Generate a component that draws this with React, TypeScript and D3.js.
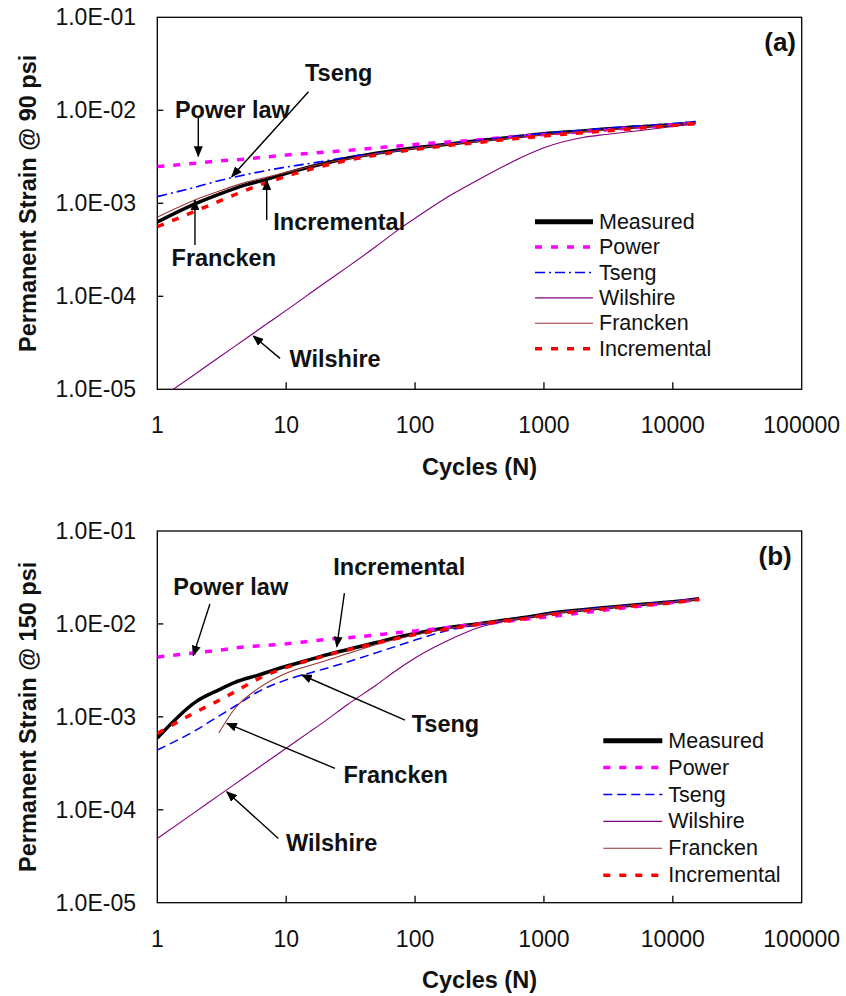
import React from 'react';
import * as d3 from 'd3';

// ---------- Panel (a) data : 90 psi ----------
const cyclesA = [1, 2, 3, 5, 7, 10, 20, 30, 50, 70, 100, 200, 300, 500, 700, 1000, 2000, 3000, 5000, 7000, 10000, 15000];
const measuredA = [6.3e-4, 1.0e-3, 1.25e-3, 1.6e-3, 1.8e-3, 2.1e-3, 2.7e-3, 3.05e-3, 3.45e-3, 3.7e-3, 3.95e-3, 4.4e-3, 4.7e-3, 5.05e-3, 5.3e-3, 5.6e-3, 6.0e-3, 6.3e-3, 6.6e-3, 6.8e-3, 7.0e-3, 7.4e-3];
const powerA = [2.48e-3, 2.7e-3, 2.85e-3, 3.0e-3, 3.15e-3, 3.3e-3, 3.55e-3, 3.7e-3, 3.95e-3, 4.1e-3, 4.3e-3, 4.6e-3, 4.8e-3, 5.1e-3, 5.3e-3, 5.5e-3, 5.9e-3, 6.15e-3, 6.5e-3, 6.75e-3, 7.0e-3, 7.35e-3];
const tsengA = [1.18e-3, 1.5e-3, 1.75e-3, 2.05e-3, 2.25e-3, 2.45e-3, 2.85e-3, 3.15e-3, 3.45e-3, 3.65e-3, 3.95e-3, 4.4e-3, 4.7e-3, 5.1e-3, 5.35e-3, 5.65e-3, 6.1e-3, 6.4e-3, 6.75e-3, 6.95e-3, 7.2e-3, 7.55e-3];
const wilshireA = [7.6e-6, 1.48e-5, 2.2e-5, 3.6e-5, 5.0e-5, 7.05e-5, 1.4e-4, 2.07e-4, 3.45e-4, 4.9e-4, 6.9e-4, 1.28e-3, 1.75e-3, 2.55e-3, 3.2e-3, 3.95e-3, 5.1e-3, 5.5e-3, 5.95e-3, 6.3e-3, 6.7e-3, 7.2e-3];
const franckenA = [7.1e-4, 1.1e-3, 1.35e-3, 1.7e-3, 1.9e-3, 2.15e-3, 2.7e-3, 3.0e-3, 3.4e-3, 3.65e-3, 3.9e-3, 4.35e-3, 4.6e-3, 4.95e-3, 5.2e-3, 5.45e-3, 5.9e-3, 6.15e-3, 6.5e-3, 6.7e-3, 6.95e-3, 7.3e-3];
const incrementalA = [5.6e-4, 8.3e-4, 1.05e-3, 1.4e-3, 1.66e-3, 1.95e-3, 2.55e-3, 2.9e-3, 3.3e-3, 3.55e-3, 3.8e-3, 4.25e-3, 4.5e-3, 4.85e-3, 5.05e-3, 5.3e-3, 5.75e-3, 6.0e-3, 6.35e-3, 6.6e-3, 6.85e-3, 7.2e-3];

// ---------- Panel (b) data : 150 psi ----------
const cyclesB = [1, 2, 3, 4, 6, 10, 15, 20, 30, 50, 70, 100, 200, 300, 500, 700, 1000, 2000, 3000, 5000, 7000, 10000, 16000];
const measuredB = [5.9e-4, 1.46e-3, 1.95e-3, 2.35e-3, 2.8e-3, 3.5e-3, 4.1e-3, 4.6e-3, 5.3e-3, 6.3e-3, 7.1e-3, 7.9e-3, 9.3e-3, 1.0e-2, 1.1e-2, 1.17e-2, 1.27e-2, 1.42e-2, 1.5e-2, 1.6e-2, 1.66e-2, 1.73e-2, 1.87e-2];
const powerB = [4.4e-3, 4.9e-3, 5.2e-3, 5.5e-3, 5.8e-3, 6.1e-3, 6.5e-3, 6.8e-3, 7.1e-3, 7.6e-3, 8.0e-3, 8.4e-3, 9.3e-3, 9.9e-3, 1.06e-2, 1.12e-2, 1.18e-2, 1.32e-2, 1.41e-2, 1.53e-2, 1.61e-2, 1.7e-2, 1.83e-2];
const tsengB = [4.4e-4, 7.2e-4, 1.02e-3, 1.3e-3, 1.85e-3, 2.5e-3, 2.95e-3, 3.3e-3, 3.9e-3, 4.9e-3, 5.7e-3, 6.7e-3, 8.8e-3, 9.7e-3, 1.08e-2, 1.16e-2, 1.27e-2, 1.43e-2, 1.51e-2, 1.61e-2, 1.68e-2, 1.75e-2, 1.88e-2];
const wilshireB = [4.9e-5, 9.6e-5, 1.43e-4, 1.89e-4, 2.8e-4, 4.6e-4, 6.8e-4, 9.0e-4, 1.36e-3, 2.2e-3, 3.1e-3, 4.3e-3, 7.1e-3, 9.0e-3, 1.07e-2, 1.15e-2, 1.25e-2, 1.41e-2, 1.49e-2, 1.59e-2, 1.65e-2, 1.72e-2, 1.86e-2];
const franckenB = [null, null, 6.7e-4, 1.23e-3, 2.0e-3, 2.95e-3, 3.55e-3, 4.0e-3, 4.8e-3, 6.0e-3, 6.8e-3, 7.6e-3, 9.1e-3, 9.9e-3, 1.09e-2, 1.16e-2, 1.26e-2, 1.41e-2, 1.49e-2, 1.59e-2, 1.65e-2, 1.72e-2, 1.85e-2];
const incrementalB = [6.6e-4, 1.13e-3, 1.5e-3, 1.86e-3, 2.55e-3, 3.4e-3, 4.05e-3, 4.55e-3, 5.25e-3, 6.2e-3, 6.9e-3, 7.7e-3, 9.0e-3, 9.8e-3, 1.08e-2, 1.14e-2, 1.23e-2, 1.38e-2, 1.46e-2, 1.56e-2, 1.62e-2, 1.69e-2, 1.83e-2];

// ---------- axes ----------
const seriesNames = ['Measured', 'Power', 'Tseng', 'Wilshire', 'Francken', 'Incremental'];
const xTicks = [1, 10, 100, 1000, 10000, 100000];
const yTicks = [1e-5, 1e-4, 1e-3, 1e-2, 1e-1];
const xTitle = 'Cycles (N)';

// annotations in data coordinates: text anchor (start, vertical centre), arrow from -> to
const annotationsA = [
  { text: 'Power law', at: [1.37, 1.0e-2], from: [2.08, 8.5e-3], to: [2.08, 3.2e-3] },
  { text: 'Tseng', at: [14, 2.54e-2], from: [14.9, 1.58e-2], to: [3.78, 1.93e-3] },
  { text: 'Incremental', at: [7.94, 6.34e-4], from: [7.06, 6.6e-4], to: [7.06, 1.78e-3] },
  { text: 'Francken', at: [1.29, 2.56e-4], from: [1.96, 3.56e-4], to: [1.96, 1.08e-3] },
  { text: 'Wilshire', at: [10.6, 2.1e-5], from: [8.96, 2.15e-5], to: [5.56, 3.74e-5] },
];
const annotationsB = [
  { text: 'Power law', at: [1.33, 2.49e-2], from: [2.56, 1.64e-2], to: [1.9, 4.56e-3] },
  { text: 'Incremental', at: [23.2, 4.13e-2], from: [28.3, 2.14e-2], to: [24.7, 5.68e-3] },
  { text: 'Tseng', at: [94.2, 8.37e-4], from: [83.6, 9.24e-4], to: [13.2, 2.82e-3] },
  { text: 'Francken', at: [27.8, 2.36e-4], from: [23.9, 2.79e-4], to: [3.46, 8.51e-4] },
  { text: 'Wilshire', at: [9.97, 4.35e-5], from: [8.69, 4.92e-5], to: [3.46, 1.56e-4] },
];

type Style = { stroke: string; width: number; dash?: string; legendWidth?: number };

const stylesA: Style[] = [
  { stroke: '#000000', width: 3.5, legendWidth: 5 },
  { stroke: '#ff00ff', width: 3.5, dash: '7,9' },
  { stroke: '#0000ff', width: 1.6, dash: '10,4,2,4' },
  { stroke: '#800080', width: 1.1 },
  { stroke: '#993333', width: 1.1 },
  { stroke: '#ff0000', width: 3.5, dash: '7,9' },
];
const stylesB: Style[] = [
  { stroke: '#000000', width: 3.5, legendWidth: 5 },
  { stroke: '#ff00ff', width: 3.5, dash: '7,9' },
  { stroke: '#0000ff', width: 1.5, dash: '9,5' },
  { stroke: '#800080', width: 1.1 },
  { stroke: '#993333', width: 1.1 },
  { stroke: '#ff0000', width: 3.5, dash: '7,9' },
];

const FONT = '"Liberation Sans", Arial, sans-serif';
const X0 = 157.3;
const X1 = 801.7;

const fmtY = (d: number) => {
  const e = Math.round(Math.log10(d));
  return `1.0E-${String(-e).padStart(2, '0')}`;
};

type PanelProps = {
  id: string;
  top: number;
  bottom: number;
  cycles: number[];
  values: (number | null)[][];
  styles: Style[];
  yTitle: string;
  tag: string;
  tagX: number;
  legendX: number;
  legendY: number;
  legendStep: number;
  legendLen: number;
  annotations: { text: string; at: number[]; from: number[]; to: number[] }[];
};

function Panel(p: PanelProps) {
  const x = d3.scaleLog().domain([1, 1e5]).range([X0, X1]);
  const y = d3.scaleLog().domain([1e-5, 1e-1]).range([p.bottom, p.top]);
  const line = d3
    .line<[number, number | null]>()
    .defined((d) => d[1] != null)
    .x((d) => x(d[0]))
    .y((d) => y(d[1] as number))
    .curve(d3.curveMonotoneX);
  const midY = (p.top + p.bottom) / 2;
  const midX = (X0 + X1) / 2;
  return (
    <g>
      <defs>
        <clipPath id={`clip-${p.id}`}>
          <rect x={X0} y={p.top} width={X1 - X0} height={p.bottom - p.top} />
        </clipPath>
      </defs>
      <rect x={X0} y={p.top} width={X1 - X0} height={p.bottom - p.top} fill="#fff" stroke="#000" strokeWidth={1.3} />
      {/* ticks */}
      {xTicks.map((t) => (
        <g key={`xt${t}`}>
          {t > 1 && t < 1e5 && <line x1={x(t)} x2={x(t)} y1={p.bottom} y2={p.bottom - 7} stroke="#000" strokeWidth={1.3} />}
          <text x={x(t)} y={p.bottom + 36} textAnchor="middle" dominantBaseline="central" fontSize={23} fontFamily={FONT} fill="#111">
            {t}
          </text>
        </g>
      ))}
      {yTicks.map((t) => (
        <g key={`yt${t}`}>
          {t > 1e-5 && t < 1e-1 && <line x1={X0} x2={X0 + 6} y1={y(t)} y2={y(t)} stroke="#000" strokeWidth={1.3} />}
          <text x={136} y={y(t)} textAnchor="end" dominantBaseline="central" fontSize={23} fontFamily={FONT} fill="#111">
            {fmtY(t)}
          </text>
        </g>
      ))}
      {/* titles */}
      <text x={midX} y={p.bottom + 77.5} textAnchor="middle" dominantBaseline="central" fontSize={23.5} fontWeight="bold" fontFamily={FONT} fill="#111">
        {xTitle}
      </text>
      <text
        transform={`translate(28,${midY}) rotate(-90)`}
        textAnchor="middle"
        dominantBaseline="central"
        fontSize={23.5}
        fontWeight="bold"
        fontFamily={FONT}
        fill="#111"
      >
        {p.yTitle}
      </text>
      <text x={p.tagX} y={p.top + 24.5} textAnchor="end" dominantBaseline="central" fontSize={26} fontWeight="bold" fontFamily={FONT} fill="#111">
        {p.tag}
      </text>
      {/* series */}
      <g clipPath={`url(#clip-${p.id})`}>
        {p.values.map((vals, i) => {
          const pts = p.cycles.map((c, j) => [c, vals[j]] as [number, number | null]);
          const s = p.styles[i];
          return (
            <path
              key={seriesNames[i]}
              d={line(pts) || ''}
              fill="none"
              stroke={s.stroke}
              strokeWidth={s.width}
              strokeDasharray={s.dash}
              strokeLinejoin="round"
            />
          );
        })}
      </g>
      {/* annotations */}
      {p.annotations.map((a) => (
        <g key={a.text}>
          <line
            x1={x(a.from[0])}
            y1={y(a.from[1])}
            x2={x(a.to[0])}
            y2={y(a.to[1])}
            stroke="#000"
            strokeWidth={1.4}
            markerEnd="url(#arrowhead)"
          />
          <text x={x(a.at[0])} y={y(a.at[1])} dominantBaseline="central" fontSize={23.5} fontWeight="bold" fontFamily={FONT} fill="#111">
            {a.text}
          </text>
        </g>
      ))}
      {/* legend */}
      {seriesNames.map((n, i) => {
        const s = p.styles[i];
        const ly = p.legendY + i * p.legendStep;
        return (
          <g key={`lg${n}`}>
            <line
              x1={p.legendX}
              x2={p.legendX + p.legendLen}
              y1={ly}
              y2={ly}
              stroke={s.stroke}
              strokeWidth={s.legendWidth ?? s.width}
              strokeDasharray={s.dash}
            />
            <text x={p.legendX + p.legendLen + 6} y={ly} dominantBaseline="central" fontSize={21.5} fontFamily={FONT} fill="#111">
              {n}
            </text>
          </g>
        );
      })}
    </g>
  );
}

export default function App() {
  return (
    <svg
      width={846}
      height={996}
      viewBox="0 0 846 996"
      style={{ position: 'absolute', left: 0, top: 0, background: '#fff' }}
    >
      <defs>
        <marker id="arrowhead" markerUnits="userSpaceOnUse" markerWidth={11} markerHeight={9} refX={10} refY={4.5} orient="auto">
          <path d="M0,0 L11,4.5 L0,9 z" fill="#000" />
        </marker>
      </defs>
      <rect x={0} y={0} width={846} height={996} fill="#fff" />
      <Panel
        id="a"
        top={17.3}
        bottom={389.3}
        cycles={cyclesA}
        values={[measuredA, powerA, tsengA, wilshireA, franckenA, incrementalA]}
        styles={stylesA}
        yTitle="Permanent Strain @ 90 psi"
        tag="(a)"
        tagX={796}
        legendX={535}
        legendY={221.7}
        legendStep={25.4}
        legendLen={58}
        annotations={annotationsA}
      />
      <Panel
        id="b"
        top={531}
        bottom={902.7}
        cycles={cyclesB}
        values={[measuredB, powerB, tsengB, wilshireB, franckenB, incrementalB]}
        styles={stylesB}
        yTitle="Permanent Strain @ 150 psi"
        tag="(b)"
        tagX={791.7}
        legendX={603.3}
        legendY={740.7}
        legendStep={26.9}
        legendLen={59}
        annotations={annotationsB}
      />
    </svg>
  );
}
